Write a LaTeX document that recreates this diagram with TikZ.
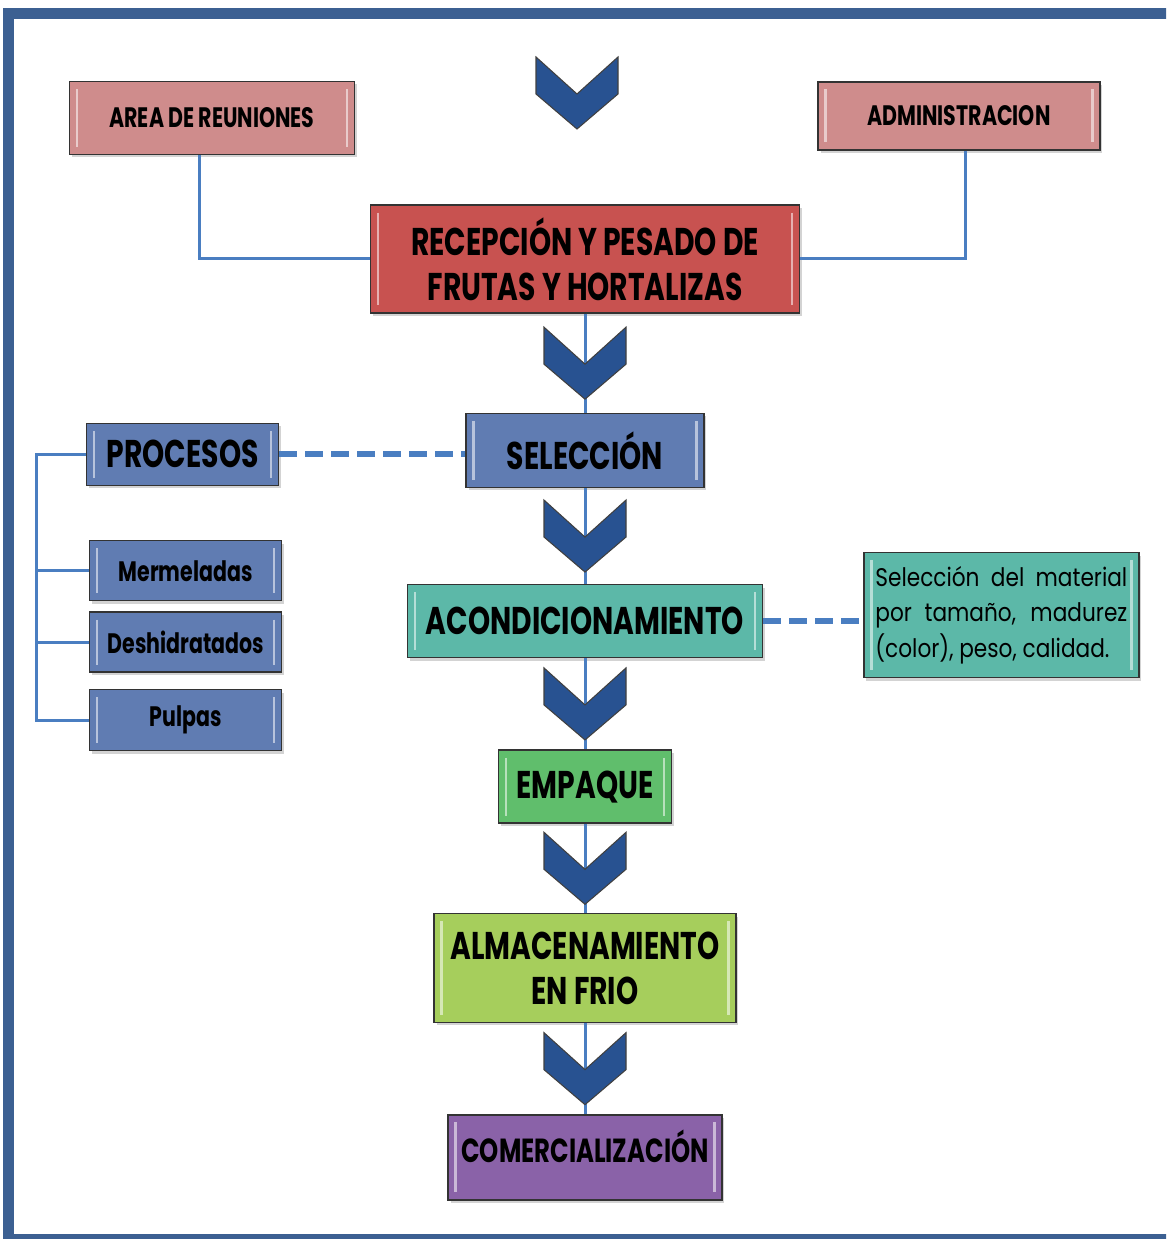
\documentclass[tikz,border=0pt]{standalone}
\usepackage{fontspec}
\newfontfamily\gothic[FakeStretch=0.73]{Poppins}
\newfontfamily\gothicnote[FakeStretch=0.85]{Poppins}
\usetikzlibrary{positioning,shadows,calc}

\definecolor{framecol}{RGB}{60,96,146}
\definecolor{linkcol}{RGB}{74,126,193}
\definecolor{chevcol}{RGB}{40,82,145}
\definecolor{pinkfill}{RGB}{207,140,140}
\definecolor{redfill}{RGB}{200,82,80}
\definecolor{bluefill}{RGB}{96,124,178}
\definecolor{tealfill}{RGB}{92,184,168}
\definecolor{greenfill}{RGB}{96,190,108}
\definecolor{limefill}{RGB}{166,206,92}
\definecolor{purplefill}{RGB}{138,98,168}

\begin{document}
\begin{tikzpicture}[
	x=0.02cm, y=-0.02cm,
	mybox/.style={draw=black!80, line width=0.8pt, fill=#1, align=center, inner sep=2pt,
		drop shadow={shadow xshift=0.05cm, shadow yshift=-0.06cm, opacity=0.35},
		path picture={
			\draw[white, opacity=0.55, line width=1.4pt]
			([xshift=0.15cm,yshift=-0.15cm]path picture bounding box.north west) -- ([xshift=0.15cm,yshift=0.15cm]path picture bounding box.south west)
			([xshift=-0.15cm,yshift=-0.15cm]path picture bounding box.north east) -- ([xshift=-0.15cm,yshift=0.15cm]path picture bounding box.south east);
		}},
	bigtext/.style={font=\gothic\bfseries\fontsize{22}{25.6}\selectfont},
	midtext/.style={font=\gothic\bfseries\fontsize{16}{19}\selectfont},
	smalltext/.style={font=\gothic\bfseries\fontsize{16}{19}\selectfont},
	link/.style={draw=linkcol, line width=0.06cm},
	dashlink/.style={draw=linkcol, line width=0.12cm, dash pattern=on 0.36cm off 0.16cm},
	chevron/.style={fill=chevcol, draw=black!75, line width=0.6pt, line join=miter}
	]
	\useasboundingbox (0,0) rectangle (1166,1239);
	\begin{scope}
		\clip (0,0) rectangle (1166,1239);
		\draw[framecol, line width=0.22cm] (8.5,13.5) rectangle (1200,1239.5);
	\end{scope}

	\node[mybox=redfill, bigtext, minimum width=8.58cm, minimum height=2.16cm] (recepcion) at (585,259) {RECEPCIÓN Y PESADO DE\\FRUTAS Y HORTALIZAS};
	\node[mybox=pinkfill, midtext, minimum width=5.7cm, minimum height=1.46cm] (reuniones) at (212,118) {AREA DE REUNIONES};
	\node[mybox=pinkfill, midtext, minimum width=5.64cm, minimum height=1.36cm] (administracion) at (959,116) {ADMINISTRACION};
	\node[mybox=bluefill, bigtext, minimum width=4.76cm, minimum height=1.48cm, below=1.98cm of recepcion] (seleccion) {SELECCIÓN};
	\node[mybox=tealfill, bigtext, minimum width=7.1cm, minimum height=1.46cm, below=1.92cm of seleccion] (acondicionamiento) {ACONDICIONAMIENTO};
	\node[mybox=greenfill, bigtext, minimum width=3.46cm, minimum height=1.46cm, below=1.82cm of acondicionamiento] (empaque) {EMPAQUE};
	\node[mybox=limefill, bigtext, minimum width=6.04cm, minimum height=2.18cm, below=1.78cm of empaque] (almacenamiento) {ALMACENAMIENTO\\EN FRIO};
	\node[mybox=purplefill, bigtext, font=\gothic\bfseries\fontsize{19}{22}\selectfont, text depth=0.45cm, minimum width=5.48cm, minimum height=1.7cm, below=1.82cm of almacenamiento] (comercializacion) {COMERCIALIZACIÓN};

	\node[mybox=bluefill, bigtext, minimum width=3.84cm, minimum height=1.24cm, left=3.72cm of seleccion, yshift=-0.08cm] (procesos) {PROCESOS};
	\node[mybox=bluefill, smalltext, minimum width=3.84cm, minimum height=1.2cm, below=1.08cm of procesos, xshift=0.06cm] (mermeladas) {Mermeladas};
	\node[mybox=bluefill, smalltext, minimum width=3.84cm, minimum height=1.2cm, below=0.2cm of mermeladas] (deshidratados) {Deshidratados};
	\node[mybox=bluefill, smalltext, minimum width=3.84cm, minimum height=1.22cm, below=0.32cm of deshidratados] (pulpas) {Pulpas};
	\node[mybox=tealfill, font=\gothicnote\fontsize{14.5}{20}\selectfont, text width=5.04cm, align=justify, inner xsep=0.23cm, minimum height=2.5cm, right=2cm of acondicionamiento, yshift=0.12cm] (nota) {Selección del material\linebreak por tamaño, madurez\linebreak (color), peso, calidad.};

	% main line
	\draw[link] (recepcion) -- (seleccion) (seleccion) -- (acondicionamiento) (acondicionamiento) -- (empaque)
		(empaque) -- (almacenamiento) (almacenamiento) -- (comercializacion);
	\draw[link] ([xshift=-0.25cm]reuniones.south) |- (recepcion.west);
	\draw[link] ([xshift=0.12cm]administracion.south) |- (recepcion.east);
	\draw[link] (procesos.west) -| ([xshift=-1.06cm]pulpas.west) -- (pulpas.west);
	\draw[link] (mermeladas.west) -- ++(-1.06cm,0) (deshidratados.west) -- ++(-1.06cm,0);
	\draw[dashlink] (procesos.east) -- (procesos.east -| seleccion.west);
	\draw[dashlink] (acondicionamiento.east) -- (acondicionamiento.east -| nota.west);

	% chevrons
	\draw[chevron] (577,93) ++(-41,-36) -- ++(41,37) -- ++(41,-37) -- ++(0,37) -- ++(-41,35) -- ++(-41,-35) -- cycle;
	\foreach \a/\b in {recepcion/seleccion, seleccion/acondicionamiento, acondicionamiento/empaque, empaque/almacenamiento, almacenamiento/comercializacion}
		\draw[chevron] ($(\a.south)!0.5!(\b.north)$) ++(-41,-36) -- ++(41,37) -- ++(41,-37) -- ++(0,37) -- ++(-41,35) -- ++(-41,-35) -- cycle;
\end{tikzpicture}
\end{document}
